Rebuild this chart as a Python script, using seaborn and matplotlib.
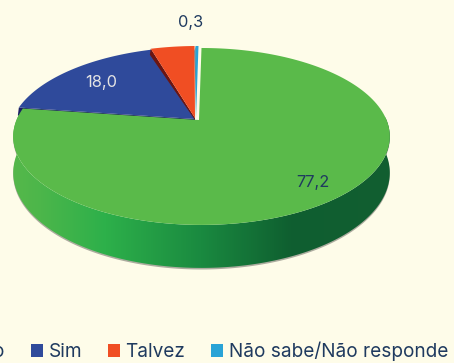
import numpy as np
import matplotlib
matplotlib.use("Agg")
import matplotlib.pyplot as plt
from matplotlib.patches import Patch, Polygon
import seaborn as sns

categories = ["Não", "Sim", "Talvez", "Não sabe/Não responde"]
values = [77.2, 18.0, 4.5, 0.3]
value_labels = ["77,2", "18,0", "", "0,3"]

colors = ["#5aba4a", "#2f4a9b", "#f04e23", "#29a3d6"]
wall_colors = [None, "#1b1f63", "#6b1512", "#14607f"]
BG = "#fefce9"
INK = "#1f3a5f"

sns.set_theme(style="white")
plt.rcParams["font.family"] = ["Inter", "DejaVu Sans"]
fig = plt.figure(figsize=(4.54, 3.63), dpi=100, facecolor=BG)
ax = fig.add_axes([0, 0, 1, 1])
ax.set_xlim(0, 454)
ax.set_ylim(363, 0)
ax.axis("off")

# perspective pie geometry: rim centre and the slightly offset apex
CX, CY, A, B, K, H = 201.5, 120, 185, 85.4, 0.186, 35
APEX_X = 199


def project(theta, radius=1.0, drop=0.0):
    x = radius * np.sin(theta)
    t = -radius * np.cos(theta)
    d = 1 - K * t
    return CX + A * x / d, CY + (B * t + drop) / d


edges = np.deg2rad(np.cumsum([0] + values) / sum(values) * 360)
shifts = [(0, 0), (-4, -1), (-4, -2), (-3, -2)]


def wedge(i, n=160):
    th = np.linspace(edges[i], edges[i + 1], n)
    x, y = project(th)
    return np.r_[APEX_X, x] + shifts[i][0], np.r_[CY, y] + shifts[i][1]


# side wall of the large slice, with a horizontal gradient clipped to it
th = np.linspace(np.deg2rad(88), edges[1], 300)
x0, y0 = project(th)
x1, y1 = project(th[::-1], drop=H)
side = np.c_[np.r_[x0, x1], np.r_[y0, y1]]
ax.add_patch(Polygon(side + [0, 1.6], closed=True, fc="#8a8a80", ec="none", alpha=0.7, zorder=1))
stops = np.array([14, 40, 105, 200, 290, 392])
rgb = np.array([(0x55, 0xb8, 0x4b), (0x4c, 0xb6, 0x4a), (0x2d, 0xb0, 0x4a),
                (0x1a, 0x8a, 0x40), (0x0f, 0x5f, 0x30), (0x12, 0x5e, 0x30)]) / 255
xs = np.arange(10, 396)
grad = np.stack([np.interp(xs, stops, rgb[:, c]) for c in range(3)], axis=-1)[None, :, :]
im = ax.imshow(grad, extent=(10, 396, 280, 100), aspect="auto", zorder=2)
clip = Polygon(side, closed=True, transform=ax.transData, fc="none", ec="none")
ax.add_patch(clip)
im.set_clip_path(clip)
ax.set_xlim(0, 454)
ax.set_ylim(363, 0)

# cut walls of the pulled-out slices
z = 3
for i, h in [(1, 4), (2, 2), (3, 1)]:
    px, py = project(edges[i])
    sx, sy = shifts[i]
    ax.add_patch(Polygon([(APEX_X + sx, CY + sy), (px + sx, py + sy), (px + sx - 1, py + sy + h + 4),
                          (APEX_X + sx, CY + sy + h)], closed=True, fc=wall_colors[i], ec="none", zorder=z))
    wx, wy = wedge(i)
    ax.fill(wx, wy, fc=colors[i], ec="none", zorder=z + 1)
    z += 2

wx, wy = wedge(0)
ax.fill(wx, wy, fc=colors[0], ec="none", zorder=12)

ax.text(313, 182, value_labels[0], color=INK, fontsize=11.8, ha="center", va="center", zorder=13)
ax.text(101, 83, value_labels[1], color="#e4e4e4", fontsize=11.8, ha="center", va="center", zorder=13)
ax.text(191, 22, value_labels[3], color=INK, fontsize=11.8, ha="center", va="center", zorder=13)

handles = [Patch(fc=c, ec="none") for c in colors]
fig.legend(handles, categories, ncol=4, loc="lower right", bbox_to_anchor=(448 / 454, 2 / 363),
           frameon=False, fontsize=13.7, labelcolor=INK, handlelength=0.63, handleheight=0.63,
           handletextpad=0.3, columnspacing=1.35, borderpad=0, borderaxespad=0)

fig.savefig("out.png", dpi=100, facecolor=BG)
